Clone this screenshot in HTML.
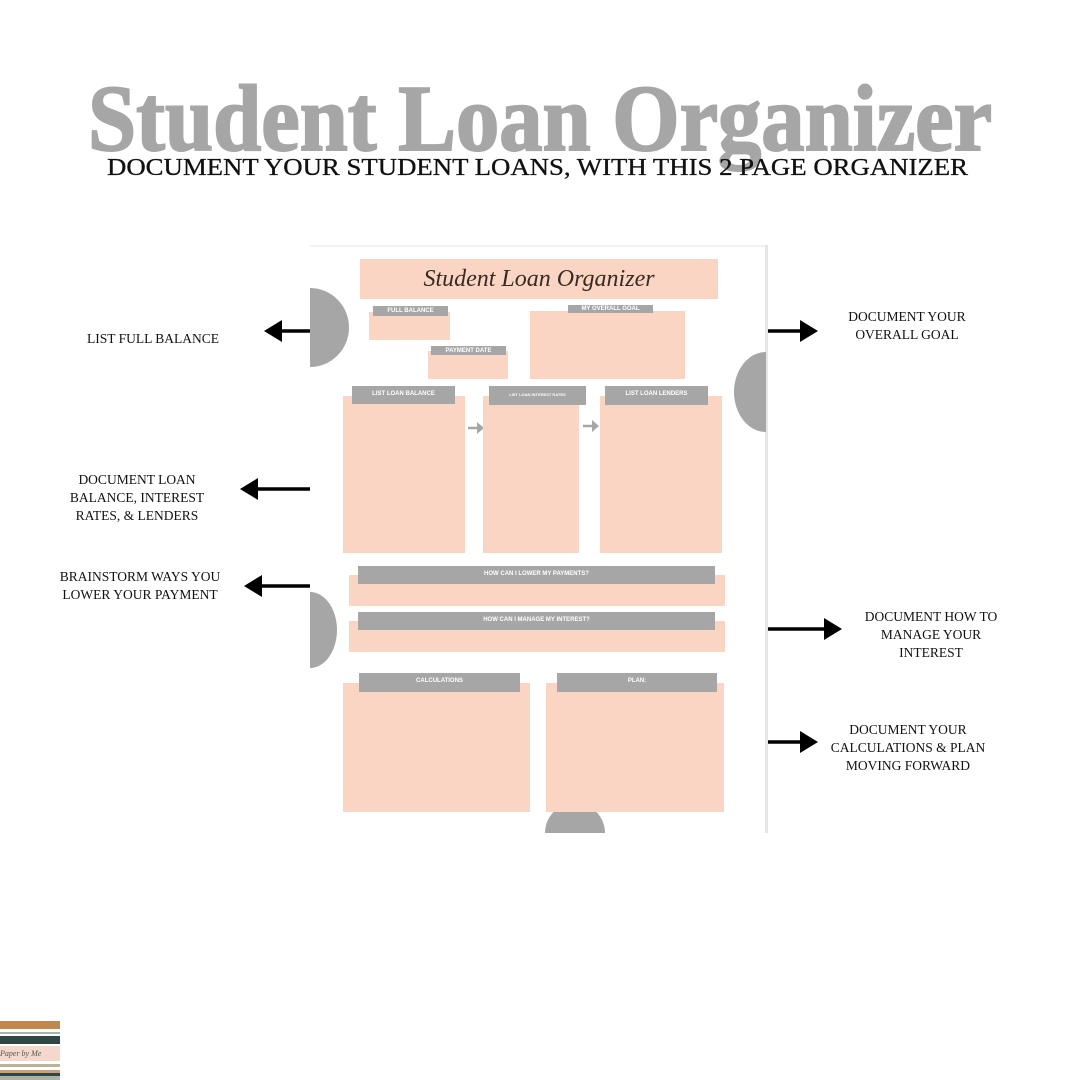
<!DOCTYPE html>
<html><head><meta charset="utf-8"><style>
body{margin:0;width:1080px;height:1080px;background:#fff;position:relative;overflow:hidden;font-family:"Liberation Serif",serif}
.a{position:absolute}
.p{position:absolute;background:#fbd5c4}
.g{position:absolute;background:#a6a6a6;color:#fff;font-family:"Liberation Sans",sans-serif;font-weight:bold;font-size:6px;text-align:center;line-height:10px;overflow:hidden;white-space:nowrap}
.l{position:absolute;font-size:13.5px;text-align:center;line-height:18px;color:#111;width:220px}
</style></head><body>
<svg class="a" style="left:0;top:0" width="1080" height="1080">
<text x="88" y="150" textLength="904" lengthAdjust="spacingAndGlyphs" font-family="Liberation Serif" font-weight="bold" font-size="94" fill="#a6a6a6" stroke="#a6a6a6" stroke-width="2">Student Loan Organizer</text>
<text x="107" y="175" textLength="861" lengthAdjust="spacingAndGlyphs" font-family="Liberation Serif" font-size="24" fill="#111" stroke="#111" stroke-width="0.3">DOCUMENT YOUR STUDENT LOANS, WITH THIS 2 PAGE ORGANIZER</text>
<line x1="310" y1="246" x2="766" y2="246" stroke="#eceef1" stroke-width="1.5"/>
<rect x="765" y="245" width="3" height="588" fill="#e3e6ea"/>
<path d="M310 288 A39 39.5 0 0 1 310 367 Z" fill="#a6a6a6"/>
<path d="M766 352 A32 40 0 0 0 766 432 Z" fill="#a6a6a6"/>
<path d="M310 592 A27 38 0 0 1 310 668 Z" fill="#a6a6a6"/>
<path d="M545 833 A30 30 0 0 1 605 833 Z" fill="#a6a6a6"/>
<g fill="#000" stroke="#000" stroke-width="3.5">
<line x1="310" y1="331" x2="278" y2="331"/><polygon points="264,331 282,320 282,342" stroke="none"/>
<line x1="768" y1="331" x2="804" y2="331"/><polygon points="818,331 800,320 800,342" stroke="none"/>
<line x1="310" y1="489" x2="254" y2="489"/><polygon points="240,489 258,478 258,500" stroke="none"/>
<line x1="310" y1="586" x2="258" y2="586"/><polygon points="244,586 262,575 262,597" stroke="none"/>
<line x1="768" y1="629" x2="828" y2="629"/><polygon points="842,629 824,618 824,640" stroke="none"/>
<line x1="768" y1="742" x2="804" y2="742"/><polygon points="818,742 800,731 800,753" stroke="none"/>
</g>
<g fill="#a6a6a6" stroke="#a6a6a6" stroke-width="2.5">
<line x1="468" y1="428" x2="478" y2="428"/><polygon points="484,428 477,422 477,434" stroke="none"/>
<line x1="583" y1="426" x2="593" y2="426"/><polygon points="599,426 592,420 592,432" stroke="none"/>
</g>
</svg>
<div class="p" style="left:360px;top:259px;width:358px;height:40px;text-align:center;font-style:italic;font-size:24px;line-height:40px;color:#3a2a22;font-family:'Liberation Serif',serif">Student Loan Organizer</div>
<div class="p" style="left:369px;top:312px;width:81px;height:28px"></div>
<div class="g" style="left:373px;top:306px;width:75px;height:10px">FULL BALANCE</div>
<div class="p" style="left:428px;top:351px;width:80px;height:28px"></div>
<div class="g" style="left:431px;top:346px;width:75px;height:9px">PAYMENT DATE</div>
<div class="p" style="left:530px;top:311px;width:155px;height:68px"></div>
<div class="g" style="left:568px;top:305px;width:85px;height:8px;line-height:8px">MY OVERALL GOAL</div>
<div class="p" style="left:343px;top:396px;width:122px;height:157px"></div>
<div class="g" style="left:352px;top:386px;width:103px;height:18px;line-height:16px">LIST LOAN BALANCE</div>
<div class="p" style="left:483px;top:396px;width:96px;height:157px"></div>
<div class="g" style="left:489px;top:386px;width:97px;height:19px;line-height:18px;font-size:4px">LIST LOAN INTEREST RATES</div>
<div class="p" style="left:600px;top:396px;width:122px;height:157px"></div>
<div class="g" style="left:605px;top:386px;width:103px;height:19px;line-height:16px">LIST LOAN LENDERS</div>
<div class="p" style="left:349px;top:575px;width:376px;height:31px"></div>
<div class="g" style="left:358px;top:566px;width:357px;height:18px;line-height:16px">HOW CAN I LOWER MY PAYMENTS?</div>
<div class="p" style="left:349px;top:621px;width:376px;height:31px"></div>
<div class="g" style="left:358px;top:612px;width:357px;height:18px;line-height:16px">HOW CAN I MANAGE MY INTEREST?</div>
<div class="p" style="left:343px;top:683px;width:187px;height:129px"></div>
<div class="g" style="left:359px;top:673px;width:161px;height:19px;line-height:17px">CALCULATIONS</div>
<div class="p" style="left:546px;top:683px;width:178px;height:129px"></div>
<div class="g" style="left:557px;top:673px;width:160px;height:19px;line-height:17px">PLAN:</div>
<div class="l" style="left:43px;top:330px">LIST FULL BALANCE</div>
<div class="l" style="left:797px;top:308px">DOCUMENT YOUR<br>OVERALL GOAL</div>
<div class="l" style="left:27px;top:471px">DOCUMENT LOAN<br>BALANCE, INTEREST<br>RATES, &amp; LENDERS</div>
<div class="l" style="left:30px;top:568px">BRAINSTORM WAYS YOU<br>LOWER YOUR PAYMENT</div>
<div class="l" style="left:821px;top:608px">DOCUMENT HOW TO<br>MANAGE YOUR<br>INTEREST</div>
<div class="l" style="left:798px;top:721px">DOCUMENT YOUR<br>CALCULATIONS &amp; PLAN<br>MOVING FORWARD</div>
<div class="a" style="left:0;top:1021px;width:60px;height:59px;overflow:hidden">
<div style="height:8px;background:#c08850"></div>
<div style="height:3px;background:#fff"></div>
<div style="height:2px;background:#a9b3a6"></div>
<div style="height:2px;background:#fff"></div>
<div style="height:8px;background:#2f4642"></div>
<div style="height:2px;background:#fff"></div>
<div style="height:15px;background:#f4d8cc;font-size:8px;font-style:italic;color:#555;line-height:15px">Paper by Me</div>
<div style="height:3px;background:#fff"></div>
<div style="height:3px;background:#b9b39e"></div>
<div style="height:3px;background:#fff"></div>
<div style="height:3px;background:#c8a07a"></div>
<div style="height:3px;background:#2f4642"></div>
<div style="height:4px;background:#a9b3a6"></div>
</div>
</body></html>
